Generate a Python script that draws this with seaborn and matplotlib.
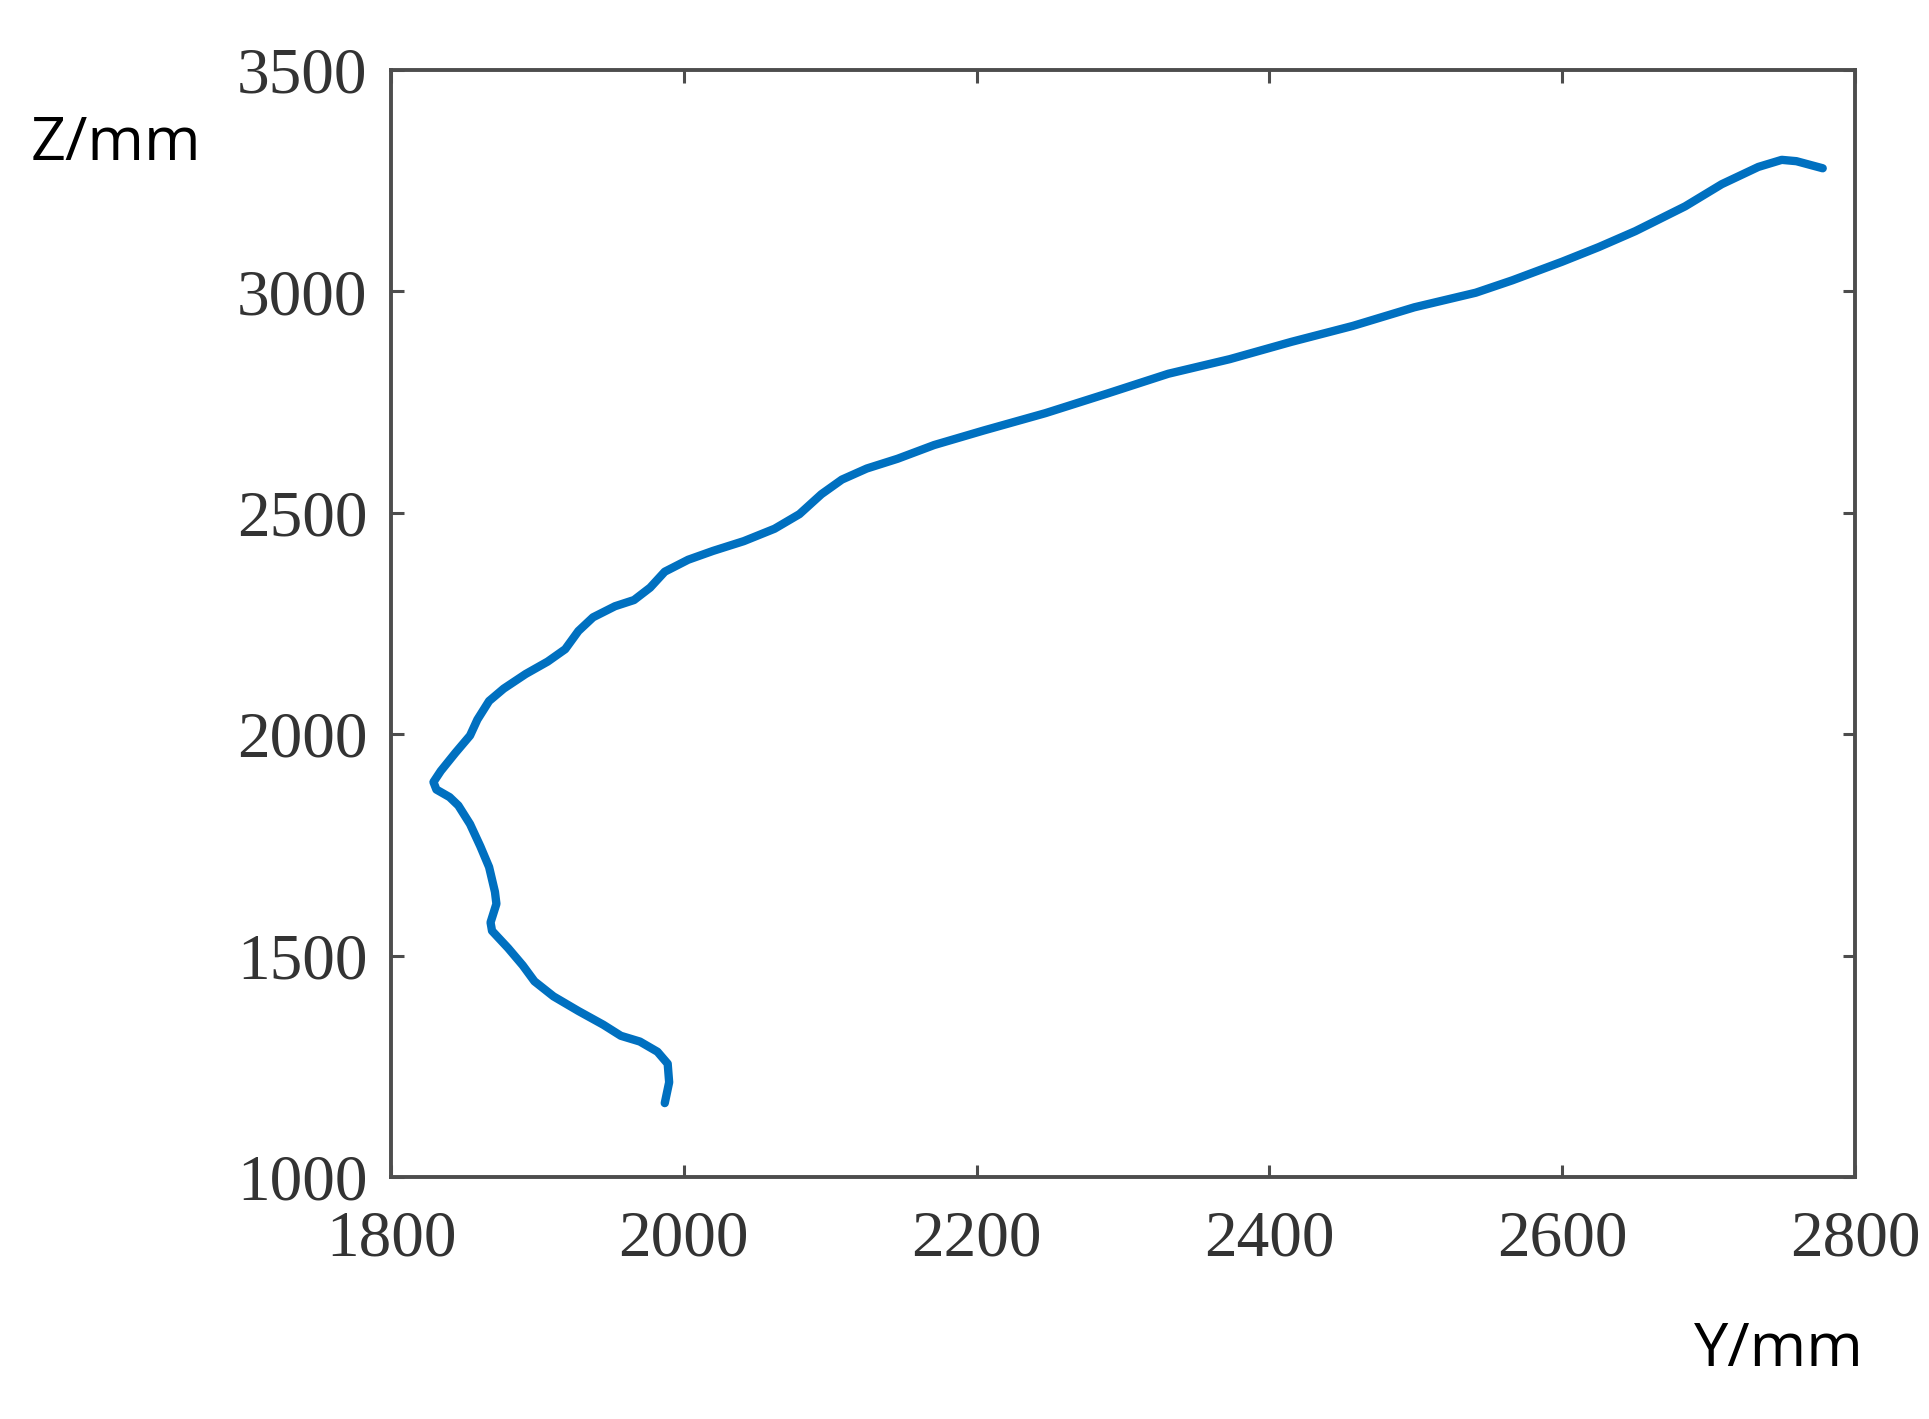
import matplotlib
matplotlib.use('Agg')

import numpy as np
import pandas as pd
import seaborn as sns
import matplotlib.pyplot as plt

# trajectory (Y horizontal, Z vertical), bottom end first
y_mm = [1987, 1990, 1989, 1982, 1970, 1957, 1945, 1928, 1911, 1898, 1890, 1880,
        1869, 1868, 1872, 1871, 1867, 1861, 1854, 1846, 1840, 1831, 1829, 1834,
        1844, 1854, 1859, 1867, 1877, 1892, 1907, 1919, 1928, 1938, 1953, 1966,
        1977, 1987, 2003, 2020, 2041, 2062, 2079, 2094, 2108, 2125, 2146, 2171,
        2205, 2247, 2289, 2331, 2373, 2415, 2457, 2499, 2541, 2566, 2600, 2625,
        2650, 2684, 2709, 2734, 2750, 2760, 2778]
z_mm = [1167, 1214, 1256, 1283, 1306, 1319, 1344, 1375, 1408, 1442, 1478, 1517,
        1556, 1575, 1617, 1644, 1700, 1747, 1797, 1839, 1858, 1875, 1892, 1917,
        1958, 1997, 2033, 2075, 2103, 2136, 2164, 2192, 2233, 2264, 2289, 2303,
        2331, 2367, 2394, 2414, 2436, 2464, 2497, 2542, 2575, 2600, 2622, 2653,
        2686, 2725, 2769, 2814, 2847, 2886, 2922, 2964, 2997, 3025, 3067, 3100,
        3136, 3192, 3242, 3281, 3297, 3294, 3278]

x_ticks = [1800, 2000, 2200, 2400, 2600, 2800]
y_ticks = [1000, 1500, 2000, 2500, 3000, 3500]

df = pd.DataFrame({'Y': y_mm, 'Z': z_mm})

sns.set_style('white')
plt.rcParams['font.family'] = ['Liberation Serif', 'DejaVu Serif']

fig = plt.figure(figsize=(19.29, 14.19), dpi=100)
ax = fig.add_axes([0.2027, 0.1705, 0.9616 - 0.2027, 0.9507 - 0.1705])

sns.lineplot(data=df, x='Y', y='Z', sort=False, estimator=None, color='#0070C0',
             linewidth=6, solid_joinstyle='round', solid_capstyle='round', ax=ax)

ax.set_xlim(1800, 2800)
ax.set_ylim(1000, 3500)
ax.set_xticks(x_ticks)
ax.set_yticks(y_ticks)
ax.set_xlabel('')
ax.set_ylabel('')

for spine in ax.spines.values():
    spine.set_visible(True)
    spine.set_color('#4d4d4d')
    spine.set_linewidth(2.8)

ax.tick_params(axis='both', direction='in', length=9, width=2.2, color='#4d4d4d',
               labelsize=47, labelcolor='#333333')
ax.tick_params(axis='x', top=True, bottom=True, pad=24)
ax.tick_params(axis='y', left=True, right=True, pad=17)

fig.text(0.016, 0.8985, 'Z/mm', family=['Open Sans', 'DejaVu Sans'], fontsize=44,
         ha='left', va='center', color='black')
fig.text(0.966, 0.0486, 'Y/mm', family=['Open Sans', 'DejaVu Sans'], fontsize=44,
         ha='right', va='center', color='black')

plt.savefig('out.png', dpi=100)
plt.close('all')
